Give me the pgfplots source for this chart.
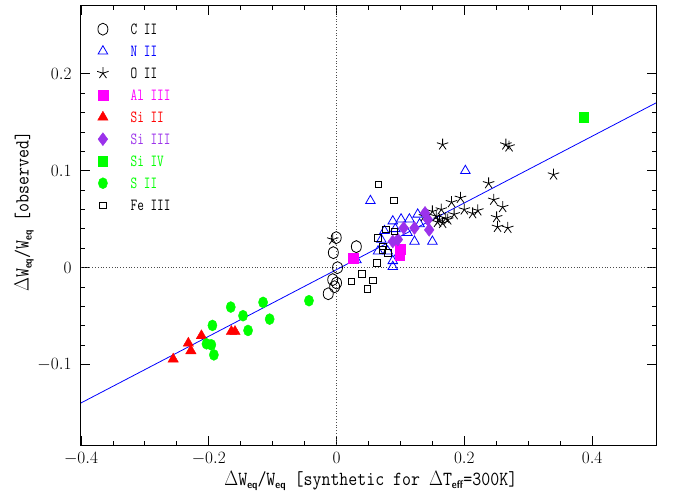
\documentclass[border=0pt]{standalone}
\usepackage{pgfplots}
\pgfplotsset{compat=1.18}
\usepackage{graphicx}
\definecolor{sipurple}{RGB}{155,50,235}
\definecolor{mygreen}{RGB}{0,255,0}
\definecolor{mymag}{RGB}{255,0,255}
\newcommand{\sub}[1]{\raisebox{-0.35ex}{\fontsize{11}{11}\selectfont\textsf{\textbf{#1}}}}
\newcommand{\legtxt}[1]{\scalebox{0.76}[1]{\fontsize{17}{19}\selectfont\ttfamily #1}}
\begin{document}
\begin{tikzpicture}
\begin{axis}[
  scale only axis, width=575pt, height=439pt,
  xmin=-0.4, xmax=0.5, ymin=-0.183, ymax=0.27,
  xtick={-0.4,-0.2,0,0.2,0.4}, minor x tick num=3,
  ytick={-0.1,0,0.1,0.2}, minor y tick num=4,
  tick align=inside, major tick length=9pt, minor tick length=4.5pt,
  every tick/.style={black, line width=0.8pt},
  axis line style={line width=1pt},
  ticklabel style={font=\fontsize{19}{21}\selectfont},
  xticklabel style={yshift=-4pt},
  yticklabel style={xshift=-6pt},
  xlabel={\scalebox{0.87}[1]{\fontsize{20}{22}\selectfont\ttfamily $\Delta$W\sub{eq}/W\sub{eq} [synthetic for $\Delta$T\sub{eff}=300K]}},
  ylabel={\scalebox{0.87}[1]{\fontsize{20}{22}\selectfont\ttfamily $\Delta$W\sub{eq}/W\sub{eq} [observed]}},
  xlabel style={at={(axis description cs:0.504,-0.082)}, anchor=center},
  ylabel style={at={(axis description cs:-0.099,0.531)}, anchor=center},
  legend style={at={(rel axis cs:0,1)}, anchor=north west, xshift=13pt, yshift=-13pt,
    draw=none, fill=none, row sep=6pt, column sep=19pt,
    nodes={text height=10pt, text depth=0pt, inner sep=3pt}},
  legend cell align=left,
]
\addplot [forget plot, dotted, black!70, line width=0.8pt] coordinates {(0,-0.183) (0,0.27)};
\addplot [forget plot, dotted, black!70, line width=0.8pt] coordinates {(-0.4,0) (0.5,0)};
\addplot [forget plot, blue, line width=0.8pt] coordinates {(-0.4,-0.1396) (0.5,0.170)};

% C II
\addplot [only marks, mark=o, mark size=5pt, mark options={yscale=1.2, black, line width=0.8pt}] coordinates {
(-0.0005,0.031) (-0.005,0.0155) (0.0015,0.0) (-0.006,-0.0124) (0.0,-0.0158)
(-0.003,-0.0196) (-0.013,-0.0269) (0.031,0.0217)};
\addlegendentry{\legtxt{C II}}
% N II
\addplot [only marks, mark=triangle, mark size=5.5pt, mark options={blue, line width=0.8pt}] coordinates {
(0.031,0.008) (0.053,0.069) (0.065,0.017) (0.070,0.029) (0.075,0.038) (0.080,0.017)
(0.088,0.048) (0.088,0.007) (0.088,0.001) (0.092,0.040) (0.098,0.015) (0.101,0.050)
(0.111,0.036) (0.114,0.050) (0.122,0.027) (0.127,0.055) (0.130,0.045) (0.150,0.027)
(0.2016,0.100)};
\addlegendentry{\legtxt{\textcolor{blue}{N II}}}
% O II
\addplot [only marks, mark=star, mark size=6pt, mark options={black, line width=0.8pt}] coordinates {
(-0.006,0.029) (0.1375,0.053) (0.150,0.058) (0.156,0.053) (0.158,0.047) (0.161,0.0496)
(0.164,0.060) (0.166,0.046) (0.166,0.127) (0.171,0.051) (0.174,0.0496) (0.180,0.0675)
(0.184,0.055) (0.194,0.072) (0.200,0.060) (0.213,0.056) (0.221,0.059) (0.238,0.087)
(0.246,0.070) (0.2505,0.052) (0.252,0.042) (0.260,0.0625) (0.265,0.127) (0.270,0.125)
(0.268,0.041) (0.3396,0.096)};
\addlegendentry{\legtxt{O II}}
% Al III
\addplot [only marks, mark=square*, mark size=4.8pt, mark options={mymag, draw=mymag}] coordinates {
(0.026,0.010) (0.100,0.019) (0.099,0.013)};
\addlegendentry{\legtxt{\textcolor{mymag}{Al III}}}
% Si II
\addplot [only marks, mark=triangle*, mark size=6pt, mark options={red, draw=red}] coordinates {
(-0.2557,-0.0944) (-0.232,-0.078) (-0.228,-0.0858) (-0.2115,-0.0703)
(-0.1646,-0.0659) (-0.159,-0.0659)};
\addlegendentry{\legtxt{\textcolor{red}{Si II}}}
% Si III
\addplot [only marks, mark=diamond*, mark size=6.5pt, mark options={sipurple, draw=sipurple}] coordinates {
(0.088,0.027) (0.096,0.029) (0.105,0.041) (0.122,0.041) (0.1385,0.0565) (0.143,0.0496) (0.145,0.039)};
\addlegendentry{\legtxt{\textcolor{sipurple}{Si III}}}
% Si IV
\addplot [only marks, mark=square*, mark size=4.5pt, mark options={yscale=1.1, mygreen, draw=mygreen}] coordinates {
(0.3865,0.1548)};
\addlegendentry{\legtxt{\textcolor{mygreen}{Si IV}}}
% S II
\addplot [only marks, mark=*, mark size=4.6pt, mark options={yscale=1.2, mygreen, draw=mygreen}] coordinates {
(-0.1656,-0.0407) (-0.1464,-0.0496) (-0.115,-0.0358) (-0.1047,-0.0531) (-0.1385,-0.0648)
(-0.1943,-0.0596) (-0.2036,-0.0786) (-0.196,-0.0796) (-0.192,-0.090) (-0.0432,-0.0341)};
\addlegendentry{\legtxt{\textcolor{mygreen}{S II}}}
% Fe III
\addplot [only marks, mark=square, mark size=3.3pt, mark options={black, line width=0.8pt}] coordinates {
(0.0656,0.0858) (0.0896,0.0696) (0.0776,0.0393) (0.0646,0.0307) (0.0906,0.0376)
(0.080,0.015) (0.072,0.0186) (0.073,0.022) (0.063,0.0048) (0.0395,-0.0062) (0.023,-0.014)
(0.057,-0.013) (0.048,-0.022)};
\addlegendentry{\legtxt{Fe III}}
\end{axis}
\pgfresetboundingbox
\path ([xshift=-81pt,yshift=-50pt]current axis.south west) rectangle ([xshift=17pt,yshift=6pt]current axis.north east);
\end{tikzpicture}
\end{document}
